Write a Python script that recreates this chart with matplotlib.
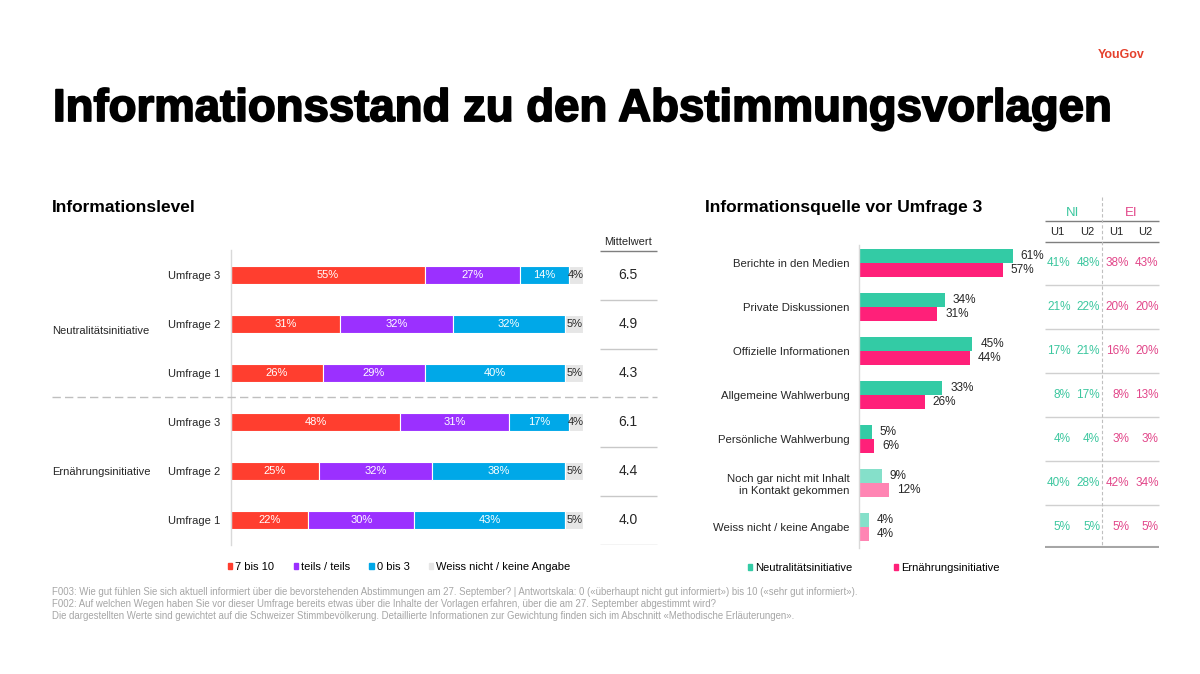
import numpy as np
import matplotlib
matplotlib.use('Agg')
import matplotlib.pyplot as plt
import matplotlib.patheffects as pe
from matplotlib.lines import Line2D
from matplotlib.patches import Patch

plt.rcParams['font.family'] = ['Liberation Sans', 'DejaVu Sans']
plt.rcParams['font.size'] = 8

# ==========================================
# Data
# ==========================================
initiatives = ['Neutralitätsinitiative', 'Ernährungsinitiative']
surveys = ['Umfrage 3', 'Umfrage 2', 'Umfrage 1']
level_labels = ['7 bis 10', 'teils / teils', '0 bis 3', 'Weiss nicht / keine Angabe']
high = [55, 31, 26, 48, 25, 22]
mid = [27, 32, 29, 31, 32, 30]
low = [14, 32, 40, 17, 38, 43]
dk = [4, 5, 5, 4, 5, 5]
means = [6.5, 4.9, 4.3, 6.1, 4.4, 4.0]

sources = ['Berichte in den Medien', 'Private Diskussionen', 'Offizielle Informationen',
           'Allgemeine Wahlwerbung', 'Persönliche Wahlwerbung',
           'Noch gar nicht mit Inhalt\nin Kontakt gekommen', 'Weiss nicht / keine Angabe']
ni_u3 = [61, 34, 45, 33, 5, 9, 4]
ei_u3 = [57, 31, 44, 26, 6, 12, 4]
ni_u1 = [41, 21, 17, 8, 4, 40, 5]
ni_u2 = [48, 22, 21, 17, 4, 28, 5]
ei_u1 = [38, 20, 16, 8, 3, 42, 5]
ei_u2 = [43, 20, 20, 13, 3, 34, 5]
table_groups = ['NI', 'EI']
table_cols = ['U1', 'U2', 'U1', 'U2']

footnotes = [
    'F003: Wie gut fühlen Sie sich aktuell informiert über die bevorstehenden Abstimmungen am 27. September? | Antwortskala: 0 («überhaupt nicht gut informiert») bis 10 («sehr gut informiert»).',
    'F002: Auf welchen Wegen haben Sie vor dieser Umfrage bereits etwas über die Inhalte der Vorlagen erfahren, über die am 27. September abgestimmt wird?',
    'Die dargestellten Werte sind gewichtet auf die Schweizer Stimmbevölkerung. Detaillierte Informationen zur Gewichtung finden sich im Abschnitt «Methodische Erläuterungen».',
]

# colours
RED, PURPLE, BLUE, GREY = '#FF3E2F', '#9B30FF', '#00A8E8', '#E6E6E6'
TEAL, PINK = '#33CBA5', '#FF2079'
TEAL_L, PINK_L = '#85E0CA', '#FF85B3'
TXT = '#262626'

W, H = 1200, 674
fig = plt.figure(figsize=(12, 6.74), dpi=100)


def fx(px):
    return px / W


def fy(py):
    return 1 - py / H


def add_ax(x0, y0, x1, y1):
    return fig.add_axes([x0 / W, 1 - y1 / H, (x1 - x0) / W, (y1 - y0) / H])


# ==========================================
# Titles
# ==========================================
fig.text(fx(53), fy(121), 'Informationsstand zu den Abstimmungsvorlagen', fontsize=32.8,
         fontweight='bold', color='black', va='baseline', ha='left',
         path_effects=[pe.withStroke(linewidth=1.3, foreground='black')])
fig.text(fx(1098), fy(58), 'YouGov', fontsize=9, fontweight='bold', color='#E5412D', va='baseline')
fig.text(fx(52), fy(212), 'Informationslevel', fontsize=12.5, fontweight='bold', va='baseline')
fig.text(fx(705), fy(212), 'Informationsquelle vor Umfrage 3', fontsize=12.5, fontweight='bold', va='baseline')

# ==========================================
# Left: stacked bars
# ==========================================
row0, step = 275, 49
ax = add_ax(231, 250, 583, 545)
rows = np.arange(len(high))
left = np.zeros(len(high))
for vals, col, lab, tcol in zip([high, mid, low, dk], [RED, PURPLE, BLUE, GREY], level_labels,
                                ['white', 'white', 'white', TXT]):
    vals = np.array(vals)
    ax.barh(rows, vals, left=left, height=0.37, color=col, edgecolor='white', linewidth=0.8, label=lab)
    for r, v, l in zip(rows, vals, left):
        ax.text(l + v / 2, r, f'{v}%', ha='center', va='center', color=tcol, fontsize=8)
    left = left + vals
ax.set_xlim(0, 100)
ax.set_ylim((545 - row0) / step, (250 - row0) / step)
ax.set_yticks(rows)
ax.set_yticklabels(surveys * 2, fontsize=8, color=TXT)
ax.tick_params(axis='y', length=0, pad=8)
ax.set_xticks([])
for s in ['top', 'right', 'bottom']:
    ax.spines[s].set_visible(False)
ax.spines['left'].set_color('#D9D9D9')
ax.spines['left'].set_linewidth(1)
ax.patch.set_alpha(0)

fig.text(fx(52), fy(331), initiatives[0], fontsize=8, color=TXT, va='center')
fig.text(fx(52), fy(472), initiatives[1], fontsize=8, color=TXT, va='center')

fig.add_artist(Line2D([fx(52), fx(657)], [fy(397), fy(397)], transform=fig.transFigure,
                      color='#BFBFBF', lw=1, ls=(0, (6, 3))))

# Mittelwert column
axm = add_ax(598, 230, 658, 545)
axm.set_xlim(0, 1)
axm.set_ylim((545 - row0) / step, (230 - row0) / step)
axm.axis('off')
for r, m in zip(rows, means):
    axm.text(0.5, r, f'{m:.1f}', ha='center', va='center', fontsize=10, color=TXT)
axm.text(0.5, -0.67, 'Mittelwert', ha='center', va='center', fontsize=8, color=TXT)
axm.hlines(-0.5, 0.03, 0.98, color='#7F7F7F', lw=1)
axm.hlines([0.5, 1.5, 3.5, 4.5, 5.5], 0.03, 0.98, color='#C8C8C8', lw=1)

handles = [Patch(color=c) for c in [RED, PURPLE, BLUE, GREY]]
fig.legend(handles, level_labels, loc='center left', bbox_to_anchor=(fx(228), fy(567)), ncol=4,
           frameon=False, fontsize=8, handlelength=0.4, handleheight=0.4, handletextpad=0.25,
           columnspacing=1.75, borderaxespad=0, borderpad=0)

# ==========================================
# Right: grouped bars
# ==========================================
r0, rstep = 263, 44
axr = add_ax(859, 245, 1042, 548)
rrows = np.arange(len(sources))
ni_cols = [TEAL] * 5 + [TEAL_L] * 2
ei_cols = [PINK] * 5 + [PINK_L] * 2
off, bh = 0.165, 0.31
axr.barh(rrows - off, ni_u3, height=bh, color=ni_cols)
axr.barh(rrows + off, ei_u3, height=bh, color=ei_cols)
for r, a, b in zip(rrows, ni_u3, ei_u3):
    axr.text(a + 3.2, r - off, f'{a}%', ha='left', va='center', fontsize=8.5, color=TXT)
    axr.text(b + 3.2, r + off, f'{b}%', ha='left', va='center', fontsize=8.5, color=TXT)
axr.set_xlim(0, (1042 - 859) / 2.52)
axr.set_ylim((548 - r0) / rstep, (245 - r0) / rstep)
axr.set_yticks(rrows)
axr.set_yticklabels(sources, fontsize=8.2, color=TXT)
axr.tick_params(axis='y', length=0, pad=7)
axr.set_xticks([])
for s in ['top', 'right', 'bottom']:
    axr.spines[s].set_visible(False)
axr.spines['left'].set_color('#D9D9D9')
axr.spines['left'].set_linewidth(1)
axr.patch.set_alpha(0)

fig.legend([Patch(color=TEAL), Patch(color=PINK)], initiatives, loc='center left',
           bbox_to_anchor=(fx(748), fy(568)), ncol=2, frameon=False, fontsize=8,
           handlelength=0.4, handleheight=0.4, handletextpad=0.25, columnspacing=3.7,
           borderaxespad=0, borderpad=0)

# table
axt = add_ax(1043, 195, 1160, 548)
axt.set_xlim(0, 4)
axt.set_ylim((548 - r0) / rstep, (195 - r0) / rstep)
axt.axis('off')
tab_colors = ['#3CC79F', '#3CC79F', '#E2478A', '#E2478A']
for c, (vals, tc) in enumerate(zip([ni_u1, ni_u2, ei_u1, ei_u2], tab_colors)):
    for r, v in zip(rrows, vals):
        axt.text(c + 0.95, r, f'{v}%', ha='right', va='center', fontsize=8.5, color=tc)
    axt.text(c + 0.5, -0.70, table_cols[c], ha='center', va='center', fontsize=8, color=TXT)
axt.text(1, -1.14, table_groups[0], ha='center', va='center', fontsize=9.5, color='#3CC79F')
axt.text(3, -1.14, table_groups[1], ha='center', va='center', fontsize=9.5, color='#E2478A')
axt.hlines([-0.955, -0.477], 0.07, 3.97, color='#7F7F7F', lw=1)
axt.hlines(rrows[:-1] + 0.5, 0.07, 3.97, color='#D0D0D0', lw=1)
axt.hlines(6.46, 0.07, 3.97, color='#A6A6A6', lw=1.5)
axt.vlines(2, -1.5, 6.46, color='#BFBFBF', lw=0.8, ls=(0, (3, 2)))

# ==========================================
# Footnotes
# ==========================================
for i, t in enumerate(footnotes):
    fig.text(fx(52), fy(592 + 12 * i), t, fontsize=6.9, color='#A6A6A6', va='center')

plt.savefig('out.png', dpi=100)
plt.close()
